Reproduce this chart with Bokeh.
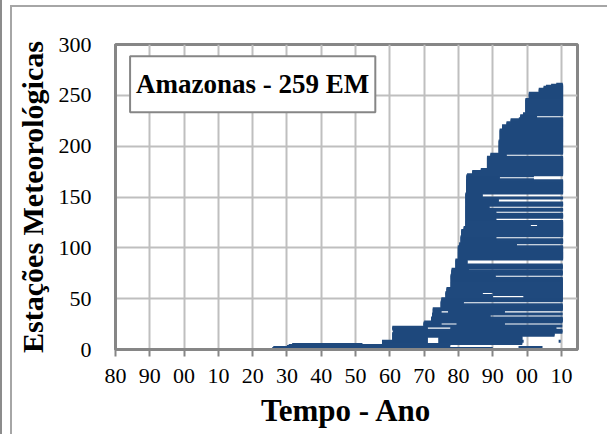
from bokeh.plotting import figure
from bokeh.models import ColumnDataSource, FixedTicker, Label, Range1d
from bokeh.embed import file_html
from bokeh.resources import INLINE

# ---- data: station record periods (station range first..last, start year, end year)
blk_first = [1, 1, 2, 2, 3, 4, 4, 5, 5, 6, 6, 8, 8, 9, 9, 13, 14, 17, 20, 20,
             23, 24, 24, 27, 28, 32, 35, 36, 36, 39, 41, 45, 48, 51, 51, 54, 54, 57, 61, 71,
             74, 78, 80, 84, 89, 102, 105, 109, 112, 118, 121, 121, 124, 127, 130, 134, 137, 139, 142, 145,
             149, 150, 154, 167, 168, 171, 172, 173, 176, 178, 190, 193, 206, 217, 221, 224, 227, 228, 231, 233,
             247, 253, 257, 259, 260, 261]
blk_last = [1, 1, 2, 2, 3, 4, 4, 5, 5, 8, 7, 8, 8, 12, 12, 13, 16, 19, 22, 22,
            23, 26, 26, 27, 31, 34, 35, 38, 38, 40, 44, 47, 50, 53, 53, 56, 56, 60, 70, 73,
            77, 79, 83, 88, 101, 104, 108, 111, 117, 120, 123, 123, 126, 129, 133, 136, 138, 141, 144, 148,
            149, 153, 166, 167, 170, 171, 172, 175, 177, 189, 192, 205, 216, 220, 223, 226, 227, 230, 232, 246,
            252, 256, 258, 259, 260, 261]
blk_start = [1925.7, 1967.0, 1926.0, 1997.5, 1930.0, 1930.5, 1966.0, 1931.5, 1957.7, 1957.7, 1974.2, 1974.2, 2009.2, 1960.7, 1974.2, 1960.7, 1960.7, 1961.0, 1960.7, 1977.7,
             1969.8, 1969.8, 1979.5, 1970.0, 1972.0, 1972.3, 1972.3, 1972.5, 1977.0, 1972.5, 1974.8, 1974.8, 1975.0, 1976.2, 1999.0, 1976.2, 1990.0, 1976.5, 1977.7, 1977.7,
             1977.9, 1978.0, 1979.1, 1979.1, 1979.8, 1980.2, 1980.6, 1980.6, 1980.8, 1981.5, 1982.0, 2003.0, 1982.0, 1982.0, 1982.0, 1982.0, 1982.0, 1982.0, 1982.0, 1982.0,
             1982.0, 1982.0, 1982.2, 1982.3, 1982.3, 1982.3, 1982.5, 1984.0, 1986.5, 1988.3, 1989.3, 1991.7, 1992.0, 1992.7, 1994.0, 1995.2, 1997.6, 1998.0, 1998.8, 1999.5,
             2000.5, 2003.4, 2004.8, 2005.5, 2007.0, 2008.5]
blk_end = [1960.0, 1990.0, 1957.5, 2004.5, 1977.6, 1958.0, 1976.0, 1952.0, 1977.6, 1971.0, 1998.6, 1999.0, 2009.8, 1971.0, 1998.6, 1998.6, 2008.0, 2010.3, 1971.0, 2008.5,
           2010.3, 1975.0, 1993.5, 2010.3, 2010.4, 1989.3, 2010.4, 1975.0, 1993.5, 2010.4, 2010.4, 1981.5, 2010.4, 1990.0, 2010.4, 1987.0, 2010.4, 2010.4, 2010.4, 1990.8,
           2010.4, 1983.0, 2010.4, 1982.6, 2010.5, 1997.0, 2010.5, 1991.0, 2010.5, 2010.5, 2001.0, 2010.5, 2010.5, 1991.0, 2010.5, 1991.0, 2010.5, 1989.0, 2010.5, 1991.7,
           2010.5, 1987.0, 2010.5, 2002.0, 1992.0, 2002.0, 2010.5, 2010.5, 2010.5, 2010.5, 1994.0, 2010.5, 2010.5, 2010.5, 2010.5, 2010.5, 2010.5, 2002.9, 2010.5, 2010.5,
           2010.5, 2010.5, 2010.5, 2010.5, 2010.5, 2010.4]

x_ticks = [1880, 1890, 1900, 1910, 1920, 1930, 1940, 1950, 1960, 1970, 1980, 1990, 2000, 2010]
x_tick_labels = ["80", "90", "00", "10", "20", "30", "40", "50", "60", "70", "80", "90", "00", "10"]
y_ticks = [0, 50, 100, 150, 200, 250, 300]

title_text = "Amazonas - 259 EM"
x_title = "Tempo - Ano"
y_title = "Estações Meteorológicas"

# expand blocks into one segment per station
seg_y, seg_x0, seg_x1 = [], [], []
for f, l, s, e in zip(blk_first, blk_last, blk_start, blk_end):
    for st in range(f, l + 1):
        seg_y.append(st)
        seg_x0.append(s)
        seg_x1.append(e)
src = ColumnDataSource(dict(y=seg_y, x0=seg_x0, x1=seg_x1))

FONT = "Liberation Serif"
GRAY = "#868686"

# outer chart border drawn as CSS background lines behind a transparent canvas
frame_css = {
    "background-image": ("linear-gradient(#8C8C8C,#8C8C8C), "
                         "linear-gradient(#A6A6A6,#A6A6A6), "
                         "linear-gradient(#A6A6A6,#A6A6A6)"),
    "background-size": "2px 100%, 2px 100%, 100% 2px",
    "background-position": "0px 0px, 10px 5px, 10px 5px",
    "background-repeat": "no-repeat",
}

p = figure(width=607, height=434, output_backend="svg", toolbar_location=None,
           x_range=Range1d(1880, 2014.7), y_range=Range1d(0, 300),
           min_border_left=115, min_border_right=30, min_border_top=44, min_border_bottom=85,
           styles=frame_css)

p.segment(x0="x0", y0="y", x1="x1", y1="y", source=src,
          line_color="#1F497D", line_width=3)

p.xaxis.ticker = FixedTicker(ticks=x_ticks)
p.xaxis.major_label_overrides = {t: l for t, l in zip(x_ticks, x_tick_labels)}
p.yaxis.ticker = FixedTicker(ticks=y_ticks)
p.xgrid.ticker = FixedTicker(ticks=x_ticks)
p.ygrid.ticker = FixedTicker(ticks=y_ticks)

p.grid.grid_line_color = "#BFBFBF"
p.grid.grid_line_width = 2

p.outline_line_color = GRAY
p.outline_line_width = 3

for ax in (p.xaxis, p.yaxis):
    ax.axis_line_color = GRAY
    ax.axis_line_width = 3
    ax.major_label_text_font = FONT
    ax.major_label_text_font_size = "22px"
    ax.major_label_text_color = "black"
    ax.axis_label_text_font = FONT
    ax.axis_label_text_font_style = "bold"
    ax.axis_label_text_color = "black"
    ax.minor_tick_line_color = None

p.xaxis.major_tick_line_color = GRAY
p.xaxis.major_tick_line_width = 2
p.xaxis.major_tick_out = 7
p.xaxis.major_tick_in = 0
p.xaxis.major_label_standoff = 12
p.xaxis.axis_label = x_title
p.xaxis.axis_label_text_font_size = "31px"
p.xaxis.axis_label_standoff = 7

p.yaxis.major_tick_line_color = None
p.yaxis.major_tick_out = 0
p.yaxis.major_tick_in = 0
p.yaxis.major_label_standoff = 24
p.yaxis.axis_label = y_title
p.yaxis.axis_label_text_font_size = "30px"
p.yaxis.axis_label_standoff = 7

lbl = Label(x=1920, y=261, text=title_text, text_align="center", text_baseline="middle",
            text_font=FONT, text_font_style="bold", text_font_size="27px", text_color="black",
            background_fill_color="white", border_line_color=GRAY, border_line_width=2,
            padding=(6, 13))
p.add_layout(lbl)

p.border_fill_color = None
p.background_fill_color = "white"

open("out.html", "w").write(file_html(p, INLINE))
